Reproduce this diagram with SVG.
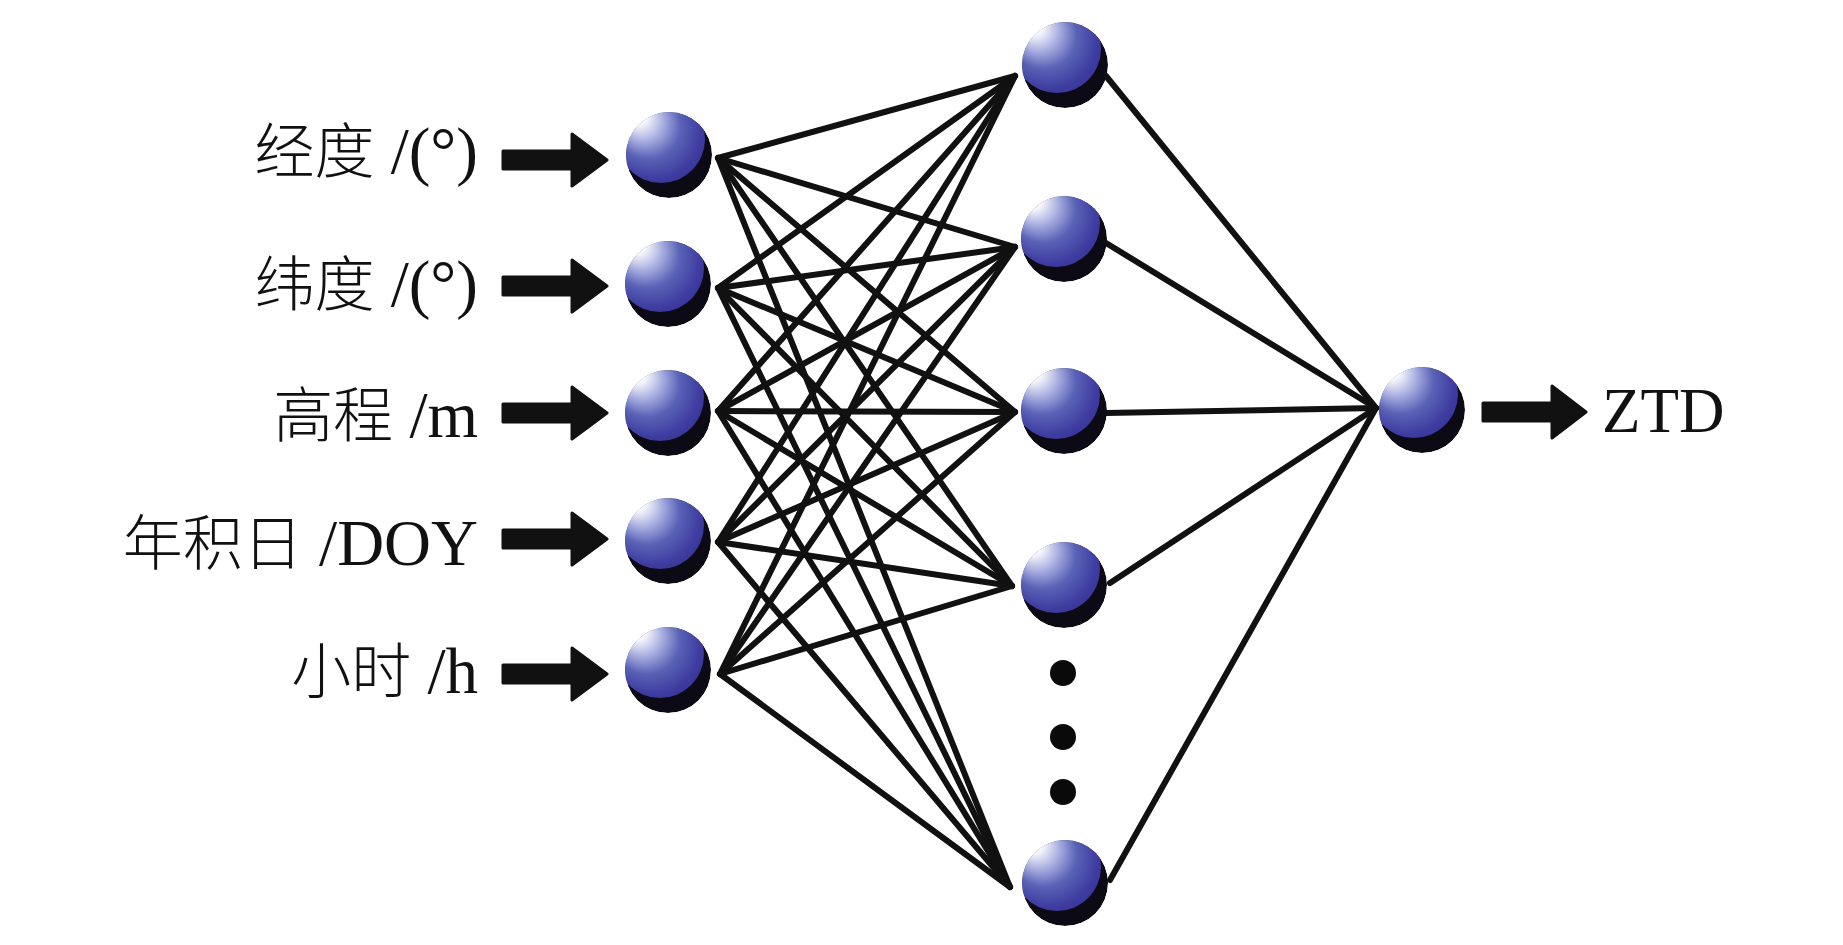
<svg xmlns="http://www.w3.org/2000/svg" xmlns:xlink="http://www.w3.org/1999/xlink" width="1843" height="945" viewBox="0 0 1843 945">
<style>
.lbl{font-family:"Liberation Serif","Times New Roman",serif;font-size:65px;fill:#111;}
.cjk{font-family:"Noto Sans CJK SC","Noto Sans CJK JP",sans-serif;font-size:60px;font-weight:300;}
.conn line{stroke:#111;stroke-width:6;stroke-linecap:round;}
.arr{fill:#111;stroke:#111;stroke-width:3;stroke-linejoin:round;}
.dot{fill:#0a0a0a;}
</style>
<defs>
<radialGradient id="sph" cx="0.5" cy="0.5" r="0.75" fx="0.2" fy="0.2">
<stop offset="0" stop-color="#ffffff"/>
<stop offset="0.14" stop-color="#f4f5fb"/>
<stop offset="0.32" stop-color="#a4aade"/>
<stop offset="0.5" stop-color="#5a62b6"/>
<stop offset="0.72" stop-color="#3e3ca0"/>
<stop offset="1" stop-color="#2c2888"/>
</radialGradient>
<clipPath id="bc"><circle r="43"/></clipPath>
<g id="ball">
<g clip-path="url(#bc)">
<circle r="43" fill="#0c0a14"/>
<circle cx="-8" cy="-16" r="44" fill="url(#sph)"/>
</g>
</g>
</defs>
<rect width="1843" height="945" fill="#ffffff"/>

<g id="connectors" class="conn">
<!-- input 1 -->
<line x1="718" y1="158" x2="1015" y2="76"/>
<line x1="718" y1="158" x2="1015" y2="247"/>
<line x1="718" y1="158" x2="1015" y2="412"/>
<line x1="718" y1="158" x2="1012" y2="586"/>
<line x1="718" y1="158" x2="1010" y2="887"/>
<!-- input 2 -->
<line x1="718" y1="288" x2="1015" y2="76"/>
<line x1="718" y1="288" x2="1015" y2="247"/>
<line x1="718" y1="288" x2="1015" y2="412"/>
<line x1="718" y1="288" x2="1012" y2="586"/>
<line x1="718" y1="288" x2="1010" y2="887"/>
<!-- input 3 -->
<line x1="718" y1="411" x2="1015" y2="76"/>
<line x1="718" y1="411" x2="1015" y2="247"/>
<line x1="718" y1="411" x2="1015" y2="412"/>
<line x1="718" y1="411" x2="1012" y2="586"/>
<line x1="718" y1="411" x2="1010" y2="887"/>
<!-- input 4 -->
<line x1="718" y1="542" x2="1015" y2="76"/>
<line x1="718" y1="542" x2="1015" y2="247"/>
<line x1="718" y1="542" x2="1015" y2="412"/>
<line x1="718" y1="542" x2="1012" y2="586"/>
<line x1="718" y1="542" x2="1010" y2="887"/>
<!-- input 5 -->
<line x1="720" y1="674" x2="1015" y2="76"/>
<line x1="720" y1="674" x2="1015" y2="247"/>
<line x1="720" y1="674" x2="1015" y2="412"/>
<line x1="720" y1="674" x2="1012" y2="586"/>
<line x1="720" y1="674" x2="1010" y2="887"/>
<!-- hidden to output -->
<line x1="1106" y1="76" x2="1376" y2="408"/>
<line x1="1106" y1="243" x2="1376" y2="408"/>
<line x1="1106" y1="413" x2="1376" y2="408"/>
<line x1="1110" y1="583" x2="1376" y2="408"/>
<line x1="1110" y1="880" x2="1376" y2="408"/>
</g>

<g id="input-arrows">
<path class="arr" d="M503,151 L572,151 L572,134 L607,160 L572,186 L572,169 L503,169 Z"/>
<path class="arr" d="M503,277 L572,277 L572,260 L607,286 L572,312 L572,295 L503,295 Z"/>
<path class="arr" d="M503,404 L572,404 L572,387 L607,413 L572,439 L572,422 L503,422 Z"/>
<path class="arr" d="M503,530 L572,530 L572,513 L607,539 L572,565 L572,548 L503,548 Z"/>
<path class="arr" d="M503,665 L572,665 L572,648 L607,674 L572,700 L572,683 L503,683 Z"/>
</g>

<g id="label-lon"><text class="lbl" x="478" y="173" text-anchor="end"><tspan class="cjk">经度</tspan> /(°)</text></g>
<g id="label-lat"><text class="lbl" x="478" y="306" text-anchor="end"><tspan class="cjk">纬度</tspan> /(°)</text></g>
<g id="label-height"><text class="lbl" x="478" y="437" text-anchor="end"><tspan class="cjk">高程</tspan> /m</text></g>
<g id="label-doy"><text class="lbl" x="478" y="565" text-anchor="end"><tspan class="cjk">年积日</tspan> /DOY</text></g>
<g id="label-hour"><text class="lbl" x="478" y="693" text-anchor="end"><tspan class="cjk">小时</tspan> /h</text></g>

<g id="in1"><use xlink:href="#ball" x="669" y="155"/></g>
<g id="in2"><use xlink:href="#ball" x="668" y="284"/></g>
<g id="in3"><use xlink:href="#ball" x="668" y="413"/></g>
<g id="in4"><use xlink:href="#ball" x="668" y="541"/></g>
<g id="in5"><use xlink:href="#ball" x="668" y="670"/></g>

<g id="h1"><use xlink:href="#ball" x="1065" y="65"/></g>
<g id="h2"><use xlink:href="#ball" x="1064" y="239"/></g>
<g id="h3"><use xlink:href="#ball" x="1064" y="411"/></g>
<g id="h4"><use xlink:href="#ball" x="1064" y="585"/></g>
<g id="h-ellipsis">
<circle class="dot" cx="1063" cy="673" r="13"/>
<circle class="dot" cx="1063" cy="737" r="13"/>
<circle class="dot" cx="1063" cy="792" r="13"/>
</g>
<g id="h5"><use xlink:href="#ball" x="1065" y="883"/></g>

<g id="out"><use xlink:href="#ball" x="1422" y="410"/></g>

<g id="output-arrow">
<path class="arr" d="M1483,403 L1552,403 L1552,386 L1586,412 L1552,438 L1552,421 L1483,421 Z"/>
</g>
<g id="label-ztd"><text class="lbl" x="1602" y="432" style="font-size:63px">ZTD</text></g>
</svg>
